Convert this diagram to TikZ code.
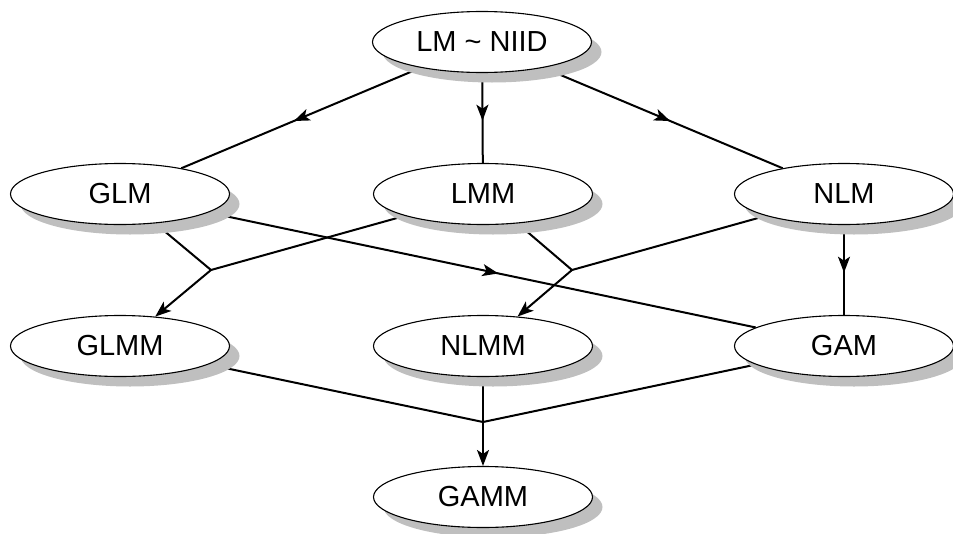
\documentclass[tikz,border=0pt]{standalone}
\usepackage{fontspec}
\setmainfont{Liberation Sans}
\usetikzlibrary{shapes.geometric,shadows,arrows.meta,decorations.markings,backgrounds}
\begin{document}
\begin{tikzpicture}[x=1pt,y=-1pt,
  model/.style={ellipse,draw=black,line width=1.1pt,fill=white,minimum width=219pt,minimum height=61pt,inner sep=0pt,
    font=\fontsize{29}{34}\selectfont,
    drop shadow={shadow xshift=10pt,shadow yshift=-10pt,fill=black!25,opacity=1}},
  link/.style={line width=2pt,draw=black},
  tipstyle/.style={-{Stealth[length=16pt,width=12pt,inset=4pt]}},
  midarrow/.style={decoration={markings,mark=at position 0.53 with {\arrow{Stealth[length=16pt,width=12pt,inset=4pt]}}},postaction={decorate}}
]
\useasboundingbox (0,0) rectangle (953,533);
\node[model] (lm) at (482,42) {LM \char`~{} NIID};
\node[model] (glm) at (120,194) {GLM};
\node[model] (lmm) at (483,194) {LMM};
\node[model] (nlm) at (844,194) {NLM};
\node[model] (glmm) at (120,346) {GLMM};
\node[model] (nlmm) at (483,346) {NLMM};
\node[model] (gam) at (844,346) {GAM};
\node[model] (gamm) at (483,497) {GAMM};
\coordinate (j1) at (211,270);
\coordinate (j2) at (572,270);
\coordinate (j3) at (483,422);
\begin{scope}[on background layer]
\draw[link,midarrow] (lm) -- (glm);
\draw[link,midarrow] (lm) -- (lmm);
\draw[link,midarrow] (lm) -- (nlm);
\draw[link,midarrow] (glm) -- (gam);
\draw[link,midarrow] (nlm) -- (gam);
\draw[link] (glm) -- (j1);
\draw[link] (lmm) -- (j1);
\draw[link,tipstyle] (j1) -- (glmm);
\draw[link] (lmm) -- (j2);
\draw[link] (nlm) -- (j2);
\draw[link,tipstyle] (j2) -- (nlmm);
\draw[link] (glmm) -- (j3);
\draw[link] (gam) -- (j3);
\draw[link] (nlmm) -- (j3);
\draw[link,tipstyle] (j3) -- (gamm);
\end{scope}
\end{tikzpicture}
\end{document}
